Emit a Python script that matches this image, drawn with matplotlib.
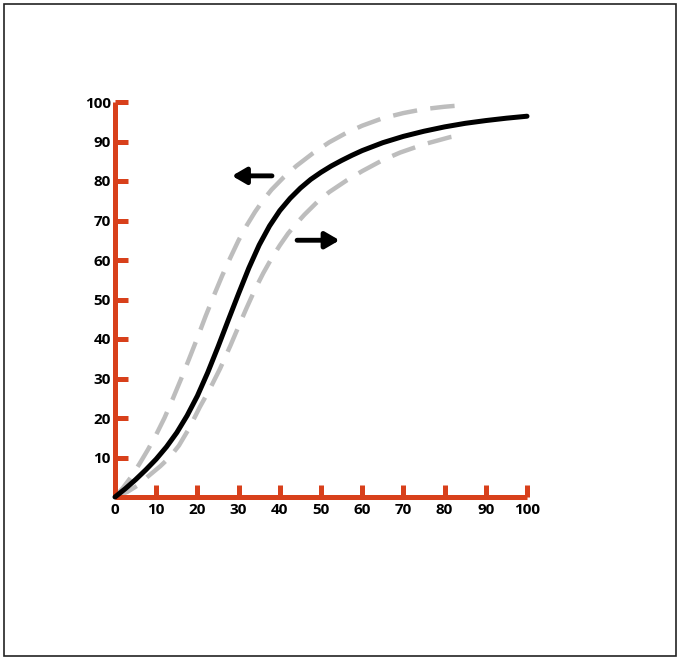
import matplotlib
matplotlib.use("Agg")
import matplotlib.pyplot as plt
from matplotlib.patches import Rectangle

# main S-curve
curve_x = [0, 2.5, 5, 7.5, 10, 12.5, 15, 17.5, 20, 22.5, 25, 27.5, 30, 32.5, 35, 37.5,
           40, 42.5, 45, 47.5, 50, 52.5, 55, 57.5, 60, 65, 70, 75, 80, 85, 90, 95, 100]
curve_y = [0, 2.1, 4.4, 6.9, 9.6, 12.7, 16.3, 20.6, 25.6, 31.5, 38, 44.8, 51.5, 58, 63.8, 68.6,
           72.5, 75.6, 78.2, 80.4, 82.2, 83.8, 85.2, 86.5, 87.7, 89.7, 91.3, 92.6, 93.7, 94.6,
           95.3, 95.9, 96.4]

# shifted curves (dashed)
left_x = [0, 2, 4, 6, 8, 10, 12, 14, 16, 18, 20, 22, 24, 26, 28, 30, 32, 34, 36, 38, 41, 44,
          48, 52, 56, 60, 65, 70, 75, 80, 84.5]
left_y = [0, 2.4, 5.2, 8.5, 12, 15.8, 20, 24.8, 29.8, 35, 40.3, 45.8, 51, 56, 60.6, 65, 68.8,
          72.2, 75.2, 77.8, 81, 83.8, 87, 89.8, 92.1, 94, 95.9, 97.2, 98.2, 98.8, 99.2]
right_x = [0, 3, 5.3, 8, 11, 13.3, 15.5, 18, 20.6, 23, 25.5, 28, 30, 32, 34, 36, 38, 40, 42,
           44, 46, 49, 52, 56.3, 60, 65, 69.2, 75, 81.3, 84]
right_y = [0, 1.3, 2.8, 5.2, 7.8, 10.1, 13, 17.4, 22.8, 27.3, 32.5, 38.3, 43.2, 48, 52.6, 56.7,
           60.4, 63.7, 66.7, 69.2, 71.5, 74.6, 77.2, 80.2, 82.5, 85.3, 87.2, 89.3, 91.1, 91.6]

x_ticks = [10, 20, 30, 40, 50, 60, 70, 80, 90, 100]
x_labels = ['10', '20', '30', '40', '50', '60', '70', '80', '90', '100']
y_ticks = [10, 20, 30, 40, 50, 60, 70, 80, 90, 100]

# arrows: (tail, head)
arrow_left = ((38.1, 81.3), (28.4, 81.3))
arrow_right = ((44.2, 65.0), (54.5, 65.0))

axis_col = '#D8401B'
plt.rcParams['font.family'] = ['Open Sans', 'DejaVu Sans']

fig = plt.figure(figsize=(6.81, 6.60), dpi=100)
ax = fig.add_axes([115 / 681, 163 / 660, 412 / 681, 395 / 660])

ax.plot(left_x, left_y, color='#BDBDBD', lw=3.2, ls=(0, (5.5, 3)), clip_on=False, zorder=2)
ax.plot(right_x, right_y, color='#BDBDBD', lw=3.2, ls=(0, (5.5, 3)), clip_on=False, zorder=2)
ax.plot(curve_x, curve_y, color='black', lw=3.6, clip_on=False, zorder=3,
        solid_capstyle='round', solid_joinstyle='round')

for tail, head in [arrow_left, arrow_right]:
    ax.annotate('', xy=head, xytext=tail,
                arrowprops=dict(arrowstyle='-|>,head_length=0.6,head_width=0.35',
                                lw=3.5, color='black', mutation_scale=14,
                                shrinkA=0, shrinkB=0))

ax.set_xlim(0, 100)
ax.set_ylim(0, 100)
for s in ['top', 'right']:
    ax.spines[s].set_visible(False)
for s in ['left', 'bottom']:
    ax.spines[s].set_color(axis_col)
    ax.spines[s].set_linewidth(3.6)
    ax.spines[s].set_capstyle('butt')

ax.set_xticks([0] + x_ticks)
ax.set_xticklabels(['0'] + x_labels)
ax.set_yticks(y_ticks)
ax.set_yticklabels([str(v) for v in y_ticks])
ax.tick_params(axis='both', direction='in', length=9, width=3.6, color=axis_col,
               labelsize=11, labelcolor='black')
ax.tick_params(axis='x', pad=4)
ax.tick_params(axis='y', pad=3)
ax.xaxis.get_major_ticks()[0].tick1line.set_visible(False)
for lab in ax.get_xticklabels() + ax.get_yticklabels():
    lab.set_fontweight('bold')

# outer frame
fig.patches.append(Rectangle((4 / 681, 4 / 660), 672 / 681, 652 / 660, transform=fig.transFigure,
                             fill=False, edgecolor='#222222', lw=1.2))

fig.savefig('out.png', dpi=100)
